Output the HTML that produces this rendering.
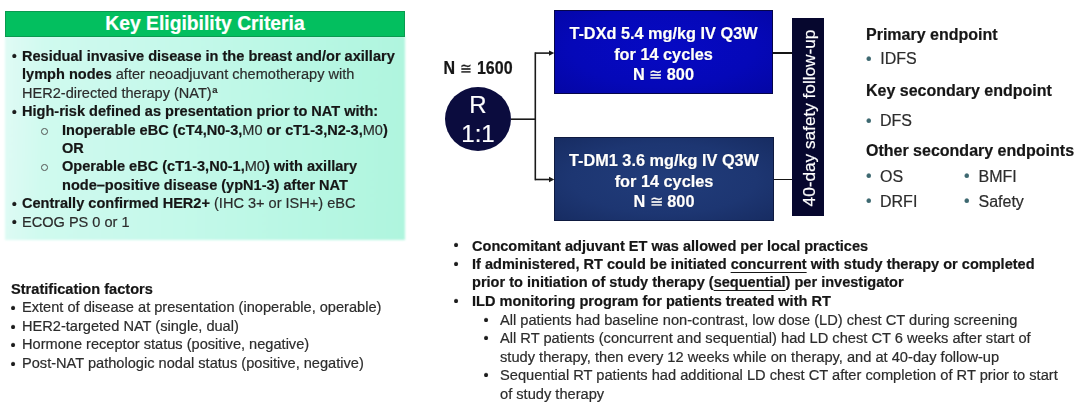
<!DOCTYPE html>
<html><head><meta charset="utf-8">
<style>
html,body{margin:0;padding:0;}
body{width:1080px;height:404px;position:relative;overflow:hidden;background:#fff;font-family:"Liberation Sans",sans-serif;color:#1c1c1c;-webkit-text-stroke:0.2px currentColor;}
.abs{position:absolute;}
b{font-weight:bold;color:#161616;}
.r{font-weight:normal;color:#2c2c2c;}
.line{position:absolute;white-space:nowrap;}
u{text-decoration-skip-ink:none;text-underline-offset:2.6px;text-decoration-thickness:1.3px;}
.bu{position:relative;top:1px;left:-0.5px;}
#elig{left:5px;top:36px;width:400px;height:204px;background:linear-gradient(92deg,#e0fbf5 0%,#d0faef 10%,#c4f9ea 45%,#b7f7e3 78%,#aff5de 100%);filter:blur(1.2px);}
#hdr{left:5px;top:10.5px;width:398px;height:24px;background:#03bf5f;border:1px solid #0a9a50;color:#fff;font-weight:bold;font-size:19.3px;text-align:center;line-height:23px;}
#b1{font-size:14.5px;line-height:18.45px;}
.bl{position:absolute;}
#blue1{left:554px;top:10px;width:217px;height:82px;border:1px solid #06064a;background:radial-gradient(ellipse at 50% 45%,#0609c4 0%,#0508b8 60%,#0406a4 100%);}
#blue2{left:554px;top:137px;width:218px;height:82px;border:1px solid #0e1a40;background:radial-gradient(ellipse at 50% 50%,#213c7a 0%,#1d3672 60%,#172c62 100%);}
.btxt{position:absolute;left:0;width:100%;text-align:center;color:#fff;font-weight:bold;font-size:16.3px;line-height:20.5px;text-shadow:0 0 1px rgba(0,0,0,.5);}
#bar{left:792.4px;top:18.3px;width:31.4px;height:198px;background:#06072e;}
#circ{left:445px;top:87px;width:66px;height:64px;border-radius:50%;background:#0b0c3e;}
.ln{position:absolute;background:#151515;}
</style></head><body><div id="wrap" style="position:absolute;left:0;top:0;width:1080px;height:404px;filter:blur(0.4px)">

<div id="elig" class="abs"></div>
<div id="hdr" class="abs">Key Eligibility Criteria</div>

<div id="b1" class="abs" style="left:0;top:46.75px;width:410px;height:190px;font-size:14.56px">
  <div class="line" style="left:11.5px;top:0"><span class="bu" style="top:0.5px;left:0.2px">•</span></div>
  <div class="line" style="left:22px;top:0"><b>Residual invasive disease in the breast and/or axillary</b></div>
  <div class="line" style="left:22px;top:18.45px"><b>lymph nodes</b><span class="r"> after neoadjuvant chemotherapy with</span></div>
  <div class="line" style="left:22px;top:36.9px"><span class="r">HER2-directed therapy (NAT)<span style="font-size:9.5px;font-weight:bold;position:relative;top:-5px;left:0.5px">a</span></span></div>
  <div class="line" style="left:11.5px;top:55.35px"><span class="bu" style="top:0.5px;left:0.2px">•</span></div>
  <div class="line" style="left:22px;top:55.35px"><b>High-risk defined as presentation prior to NAT with:</b></div>
  <div class="abs" style="left:41px;top:81.35px;width:4.8px;height:4.8px;border:1.4px solid #505050;border-radius:50%"></div>
  <div class="line" style="left:62px;top:73.8px"><b>Inoperable eBC (cT4,N0-3,</b><span class="r">M0</span><b> or cT1-3,N2-3,</b><span class="r">M0</span><b>)</b></div>
  <div class="line" style="left:62px;top:92.25px"><b>OR</b></div>
  <div class="abs" style="left:41px;top:117.65px;width:4.8px;height:4.8px;border:1.4px solid #505050;border-radius:50%"></div>
  <div class="line" style="left:62px;top:110.7px"><b>Operable eBC (cT1-3,N0-1,</b><span class="r">M0</span><b>) with axillary</b></div>
  <div class="line" style="left:62px;top:129.15px"><b>node–positive disease (ypN1-3) after NAT</b></div>
  <div class="line" style="left:11.5px;top:147.6px"><span class="bu" style="top:0.5px;left:0.2px">•</span></div>
  <div class="line" style="left:22px;top:147.6px"><b>Centrally confirmed HER2+</b><span class="r"> (IHC 3+ or ISH+) eBC</span></div>
  <div class="line" style="left:11.5px;top:166.05px"><span class="bu" style="top:0.5px;left:0.2px">•</span></div>
  <div class="line" style="left:22px;top:166.05px"><span class="r">ECOG PS 0 or 1</span></div>
</div>

<!-- stratification -->
<div class="abs" style="left:0;top:279.7px;width:420px;height:110px;font-size:14.6px;line-height:18.6px;">
  <div class="line" style="left:11px;top:0"><b>Stratification factors</b></div>
  <div class="line" style="left:11px;top:18.6px"><span class="bu">•</span></div>
  <div class="line" style="left:22px;top:18.6px"><span class="r">Extent of disease at presentation (inoperable, operable)</span></div>
  <div class="line" style="left:11px;top:37.2px"><span class="bu">•</span></div>
  <div class="line" style="left:22px;top:37.2px"><span class="r">HER2-targeted NAT (single, dual)</span></div>
  <div class="line" style="left:11px;top:55.8px"><span class="bu">•</span></div>
  <div class="line" style="left:22px;top:55.8px"><span class="r">Hormone receptor status (positive, negative)</span></div>
  <div class="line" style="left:11px;top:74.4px"><span class="bu">•</span></div>
  <div class="line" style="left:22px;top:74.4px"><span class="r">Post-NAT pathologic nodal status (positive, negative)</span></div>
</div>

<!-- diagram -->
<div class="abs" style="left:443.5px;top:58.5px;font-size:16px;line-height:20px;font-weight:bold;color:#161616;white-space:nowrap;transform:scaleY(1.13);transform-origin:0 15.5px">N <span style="font-weight:normal;font-size:14.5px">≅</span> 1600</div>
<div id="circ" class="abs"></div>
<div class="abs" style="left:445px;top:90px;width:66px;text-align:center;color:#fff;font-size:24px;line-height:29.2px;">R<br>1:1</div>

<svg class="abs" style="left:0;top:0" width="1080" height="404">
<g stroke="#1a1a1a" stroke-width="1.6" fill="none">
<path d="M511 119.2 H535.3"/>
<path d="M535.3 52.3 V180.3"/>
<path d="M535.3 53.1 H549.5"/>
<path d="M535.3 179.5 H549.5"/>
</g>
<path d="M549 50.4 L554.3 53.1 L549 55.8 Z" fill="#1a1a1a"/>
<path d="M549 176.8 L554.3 179.5 L549 182.2 Z" fill="#1a1a1a"/>
</svg>
<div id="blue1" class="abs">
  <div class="btxt" style="top:12px">T-DXd 5.4 mg/kg IV Q3W<br>for 14 cycles<br>N <span style="font-weight:normal">≅</span> 800</div>
</div>
<div id="blue2" class="abs">
  <div class="btxt" style="top:12px">T-DM1 3.6 mg/kg IV Q3W<br>for 14 cycles<br>N <span style="font-weight:normal">≅</span> 800</div>
</div>
<div class="ln" style="left:773px;top:52.4px;width:20px;height:1.4px;"></div>
<div class="ln" style="left:774px;top:178.8px;width:19px;height:1.4px;"></div>

<div id="bar" class="abs"></div>
<div class="abs" style="left:809px;top:118px;width:0;height:0;">
  <div style="position:absolute;left:-100px;top:-10px;width:200px;height:20px;line-height:20px;text-align:center;color:#fff;font-size:17.2px;transform:rotate(-90deg);white-space:nowrap">40-day safety follow-up</div>
</div>

<!-- endpoints -->
<div class="abs" style="left:866px;top:0;width:214px;height:230px;font-size:16px;">
  <div class="line" style="left:0;top:25px;line-height:20px"><b>Primary endpoint</b></div>
  <div class="line" style="left:0.5px;top:49px;line-height:20px;color:#3d6870"><span class="bu" style="top:-0.2px">•</span></div>
  <div class="line" style="left:14.3px;top:49px;line-height:20px"><span class="r">IDFS</span></div>
  <div class="line" style="left:0;top:81px;line-height:20px"><b>Key secondary endpoint</b></div>
  <div class="line" style="left:0.5px;top:111px;line-height:20px;color:#3d6870"><span class="bu" style="top:-0.2px">•</span></div>
  <div class="line" style="left:14px;top:111px;line-height:20px"><span class="r">DFS</span></div>
  <div class="line" style="left:0;top:141px;line-height:20px"><b>Other secondary endpoints</b></div>
  <div class="line" style="left:0.5px;top:166.5px;line-height:20px;color:#3d6870"><span class="bu" style="top:-0.2px">•</span></div>
  <div class="line" style="left:14px;top:166.5px;line-height:20px"><span class="r">OS</span></div>
  <div class="line" style="left:0.5px;top:191.5px;line-height:20px;color:#3d6870"><span class="bu" style="top:-0.2px">•</span></div>
  <div class="line" style="left:14px;top:191.5px;line-height:20px"><span class="r">DRFI</span></div>
  <div class="line" style="left:98.5px;top:166.5px;line-height:20px;color:#3d6870"><span class="bu" style="top:-0.2px">•</span></div>
  <div class="line" style="left:112.5px;top:166.5px;line-height:20px"><span class="r">BMFI</span></div>
  <div class="line" style="left:98.5px;top:191.5px;line-height:20px;color:#3d6870"><span class="bu" style="top:-0.2px">•</span></div>
  <div class="line" style="left:112.5px;top:191.5px;line-height:20px"><span class="r">Safety</span></div>
</div>

<!-- bottom right -->
<div class="abs" style="left:0;top:236.6px;width:1080px;height:170px;font-size:14.56px;line-height:18.4px;">
  <div class="line" style="left:454px;top:0"><span class="bu" style="top:-0.2px">•</span></div>
  <div class="line" style="left:472px;top:0"><b>Concomitant adjuvant ET was allowed per local practices</b></div>
  <div class="line" style="left:454px;top:18.4px"><span class="bu" style="top:-0.2px">•</span></div>
  <div class="line" style="left:472px;top:18.4px"><b>If administered, RT could be initiated <u>concurrent</u> with study therapy or completed</b></div>
  <div class="line" style="left:472px;top:36.8px"><b>prior to initiation of study therapy (<u>sequential</u>) per investigator</b></div>
  <div class="line" style="left:454px;top:55.2px"><span class="bu" style="top:-0.2px">•</span></div>
  <div class="line" style="left:472px;top:55.2px"><b>ILD monitoring program for patients treated with RT</b></div>
  <div class="line" style="left:484px;top:74.4px"><span class="bu" style="top:-0.2px">•</span></div>
  <div class="line" style="left:500px;top:74.4px;font-size:14.65px"><span class="r">All patients had baseline non-contrast, low dose (LD) chest CT during screening</span></div>
  <div class="line" style="left:484px;top:92.8px"><span class="bu" style="top:-0.2px">•</span></div>
  <div class="line" style="left:500px;top:92.8px;font-size:14.65px"><span class="r">All RT patients (concurrent and sequential) had LD chest CT 6 weeks after start of</span></div>
  <div class="line" style="left:500px;top:111.2px;font-size:14.65px"><span class="r">study therapy, then every 12 weeks while on therapy, and at 40-day follow-up</span></div>
  <div class="line" style="left:484px;top:129.6px"><span class="bu" style="top:-0.2px">•</span></div>
  <div class="line" style="left:500px;top:129.6px;font-size:14.65px"><span class="r">Sequential RT patients had additional LD chest CT after completion of RT prior to start</span></div>
  <div class="line" style="left:500px;top:148.0px;font-size:14.65px"><span class="r">of study therapy</span></div>
</div>

</div></body></html>
